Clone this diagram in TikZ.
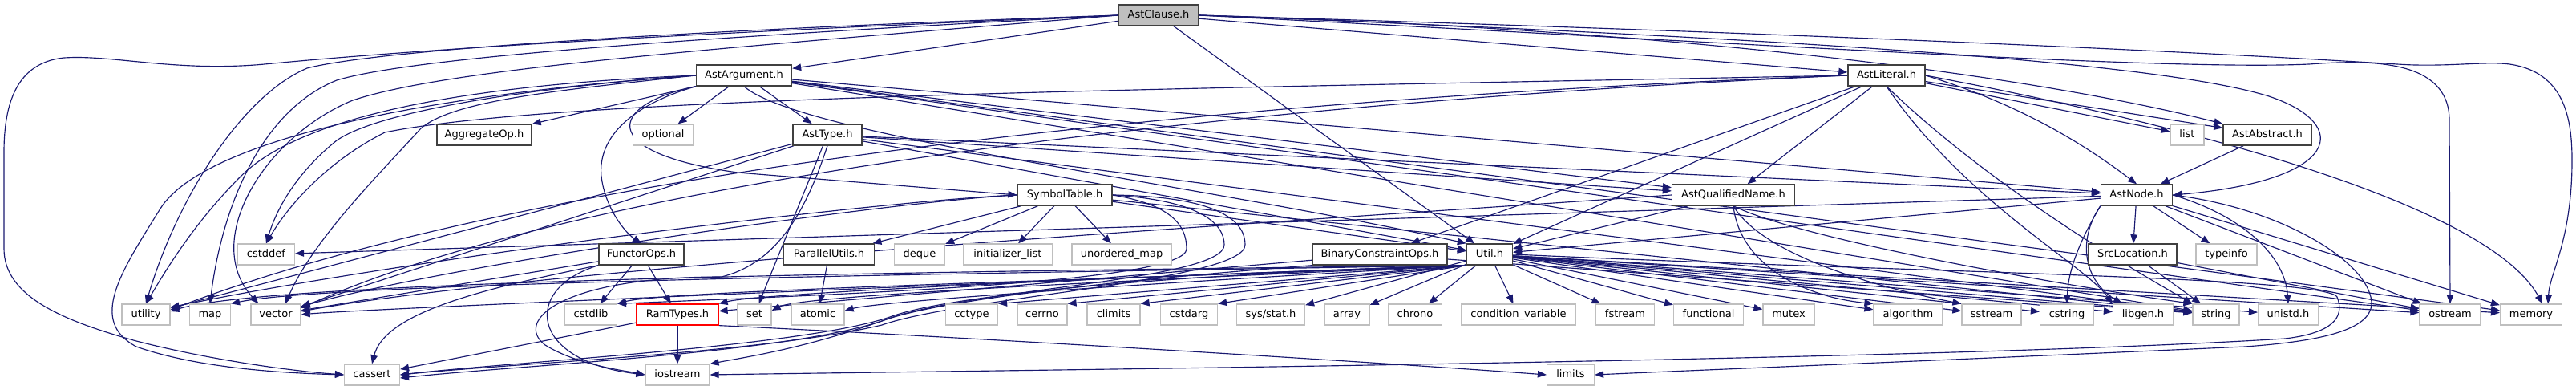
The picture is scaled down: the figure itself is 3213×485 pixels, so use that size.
\documentclass[tikz,border=0pt]{standalone}
\usepackage{fontspec}
\setmainfont{DejaVu Sans}
\usetikzlibrary{arrows.meta}
\definecolor{edgeblue}{RGB}{25,25,112}
\definecolor{sysgray}{RGB}{191,191,191}
\pgfdeclarelayer{bg}
\pgfsetlayers{bg,main}
\begin{document}
\begin{tikzpicture}[x=1pt,y=-1pt,
  box/.style={draw=black!75, line width=1.4pt, minimum height=26pt, inner sep=0pt,
    text height=10pt, text depth=3pt, font=\fontsize{13}{15}\selectfont, fill=white},
  doc/.style={box},
  sys/.style={box, draw=sysgray, line width=1.2pt},
  e/.style={draw=edgeblue, line width=1.15pt, -{Triangle[length=11pt,width=8.5pt]}},
]
\useasboundingbox (0,0) rectangle (3213,485);
% row A
\node[doc, fill=sysgray, minimum width=99pt] (cl) at (1445,19) {AstClause.h};
% row B
\node[doc, minimum width=119pt] (arg) at (928,94) {AstArgument.h};
\node[doc, minimum width=96pt] (lit) at (2353,94) {AstLiteral.h};
% row C
\node[doc, minimum width=118pt] (agg) at (604,168) {AggregateOp.h};
\node[sys, minimum width=75pt] (opt) at (827,168) {optional};
\node[doc, minimum width=86pt] (type) at (1032,168) {AstType.h};
\node[sys, minimum width=42pt] (list) at (2728,168) {list};
\node[doc, minimum width=110pt] (abs) at (2828,168) {AstAbstract.h};
% row D
\node[doc, minimum width=118pt] (sym) at (1328,243) {SymbolTable.h};
\node[doc, minimum width=153pt] (qn) at (2162,243) {AstQualifiedName.h};
\node[doc, minimum width=89pt] (node) at (2665,243) {AstNode.h};
% row E
\node[sys, minimum width=71pt] (cstddef) at (332,317) {cstddef};
\node[doc, minimum width=106pt] (func) at (800,317) {FunctorOps.h};
\node[doc, minimum width=113pt] (par) at (1034,317) {ParallelUtils.h};
\node[sys, minimum width=63pt] (deque) at (1147,317) {deque};
\node[sys, minimum width=111pt] (initl) at (1257,317) {initializer\_list};
\node[sys, minimum width=124pt] (umap) at (1399,317) {unordered\_map};
\node[doc, minimum width=168pt] (bin) at (1721,317) {BinaryConstraintOps.h};
\node[doc, minimum width=57pt] (util) at (1858,317) {Util.h};
\node[doc, minimum width=110pt] (src) at (2660,317) {SrcLocation.h};
\node[sys, minimum width=76pt] (typeinfo) at (2777,317) {typeinfo};
% row F
\node[sys, minimum width=60pt] (utility) at (182,392) {utility};
\node[sys, minimum width=51pt] (map) at (262,392) {map};
\node[sys, minimum width=62pt] (vector) at (344,392) {vector};
\node[sys, minimum width=65pt] (cstdlib) at (737,392) {cstdlib};
\node[box, draw=red, line width=1.2pt, minimum width=102pt] (ram) at (845,392) {RamTypes.h};
\node[sys, minimum width=42pt] (set) at (941,392) {set};
\node[sys, minimum width=66pt] (atomic) at (1020,392) {atomic};
\node[sys, minimum width=65pt] (cctype) at (1212,392) {cctype};
\node[sys, minimum width=62pt] (cerrno) at (1300,392) {cerrno};
\node[sys, minimum width=66pt] (climits) at (1389,392) {climits};
\node[sys, minimum width=71pt] (cstdarg) at (1483,392) {cstdarg};
\node[sys, minimum width=85pt] (sysstat) at (1585,392) {sys/stat.h};
\node[sys, minimum width=56pt] (array) at (1680,392) {array};
\node[sys, minimum width=67pt] (chrono) at (1765,392) {chrono};
\node[sys, minimum width=143pt] (condvar) at (1894,392) {condition\_variable};
\node[sys, minimum width=73pt] (fstream) at (2027,392) {fstream};
\node[sys, minimum width=87pt] (functional) at (2131,392) {functional};
\node[sys, minimum width=64pt] (mutex) at (2231,392) {mutex};
\node[sys, minimum width=86pt] (algorithm) at (2380,392) {algorithm};
\node[sys, minimum width=74pt] (sstream) at (2484,392) {sstream};
\node[sys, minimum width=67pt] (cstring) at (2578,392) {cstring};
\node[sys, minimum width=75pt] (libgen) at (2673,392) {libgen.h};
\node[sys, minimum width=58pt] (string) at (2764,392) {string};
\node[sys, minimum width=75pt] (unistd) at (2854,392) {unistd.h};
\node[sys, minimum width=76pt] (ostream) at (3056,392) {ostream};
\node[sys, minimum width=77pt] (memory) at (3157,392) {memory};
% row G
\node[sys, minimum width=69pt] (cassert) at (464,467) {cassert};
\node[sys, minimum width=80pt] (iostream) at (845,467) {iostream};
\node[sys, minimum width=59pt] (limits) at (1959,467) {limits};

\begin{pgfonlayer}{bg}
% AstClause.h
\draw[e] (cl) -- (arg);
\draw[e] (cl) -- (lit);
\draw[e] (cl.east) .. controls (2200,40) and (2600,110) .. (abs.north west);
\draw[e] (cl.east) .. controls (2300,50) and (2700,80) .. (2830,120) .. controls (2935,155) and (2920,225) .. (node.east);
\draw[e] (cl) -- (util);
\draw[e] (cl.west) .. controls (900,40) and (560,58) .. (330,80) .. controls (220,90) and (140,68) .. (80,72) .. controls (20,78) and (5,130) .. (5,190) -- (5,310) .. controls (5,370) and (80,400) .. (170,425) .. controls (260,448) and (360,462) .. (cassert.west);
\draw[e] (cl.west) .. controls (900,36) and (480,60) .. (383,85) .. controls (300,120) and (220,250) .. (utility.north);
\draw[e] (cl.west) .. controls (900,45) and (520,70) .. (420,100) .. controls (320,140) and (275,270) .. (map.north);
\draw[e] (cl.west) .. controls (900,60) and (560,85) .. (440,125) .. controls (330,170) and (250,300) .. ([xshift=10pt]vector.north west);
\draw[e] (cl.east) .. controls (2200,40) and (2700,62) .. (2990,80) .. controls (3050,84) and (3100,76) .. (3130,80) .. controls (3200,90) and (3208,150) .. (3208,200) .. controls (3208,300) and (3180,340) .. ([xshift=-18pt]memory.north east);
\draw[e] (cl.east) .. controls (2200,55) and (2700,88) .. (2880,80) .. controls (2960,74) and (3055,75) .. (3055,150) -- (ostream.north);
% AstArgument.h
\draw[e] (arg) -- (agg);
\draw[e] (arg) -- (opt);
\draw[e] (arg) -- (type);
\draw[e] (arg.south west) .. controls (790,130) and (745,170) .. (750,220) .. controls (755,260) and (780,290) .. (func.north);
\draw[e] (arg.south west) .. controls (760,130) and (740,190) .. (920,215) -- (sym.west);
\draw[e] (arg) -- (node);
\draw[e] (arg) -- (qn);
\draw[e] (arg.south) .. controls (1000,170) and (1500,230) .. (util.north west);
\draw[e] (arg.west) .. controls (500,120) and (250,180) .. (200,260) .. controls (150,340) and (110,400) .. (170,432) .. controls (250,460) and (360,465) .. (cassert.west);
\draw[e] (arg.west) .. controls (650,110) and (470,140) .. (420,175) .. controls (370,215) and (345,260) .. (cstddef.north);
\draw[e] (arg.west) .. controls (600,105) and (380,140) .. (300,220) .. controls (240,280) and (205,340) .. (utility.north);
\draw[e] (arg.west) .. controls (700,112) and (565,125) .. (525,160) .. controls (470,220) and (390,300) .. ([xshift=12pt]vector.north);
\draw[e] (arg) -- (memory);
\draw[e] (arg) -- (ostream);
\draw[e] (arg) -- (string);
% AstLiteral.h
\draw[e] (lit) -- (abs);
\draw[e] (lit) -- (list);
\draw[e] (lit.east) .. controls (2520,130) and (2600,180) .. (node.north);
\draw[e] (lit) -- (qn);
\draw[e] (lit) -- (bin);
\draw[e] (lit) -- (util);
\draw[e] (lit.east) .. controls (2700,150) and (3100,250) .. ([xshift=-25pt]memory.north east);
\draw[e] (lit.south) .. controls (2450,250) and (2600,330) .. (libgen.north west);
\draw[e] (lit.south) .. controls (2480,230) and (2650,330) .. (string.north west);
\draw[e] (lit.west) .. controls (1500,110) and (700,120) .. (480,165) .. controls (410,200) and (360,255) .. (cstddef.north);
\draw[e] (lit.west) .. controls (1600,120) and (700,200) .. ([yshift=6pt]utility.east);
\draw[e] (lit.west) .. controls (1600,125) and (750,215) .. ([yshift=8pt]vector.east);
% AstType.h
\draw[e] (type) -- (node);
\draw[e] (type) -- (qn);
\draw[e] (type) -- (util);
\draw[e] (type) -- (set);
\draw[e] (type.south) .. controls (1000,280) and (960,330) .. (900,345) .. controls (700,345) and (640,400) .. (680,430) .. controls (720,455) and (780,462) .. (iostream.west);
\draw[e] (type) -- (utility);
\draw[e] (type) -- (vector);
\draw[e] (type) -- (string);
% SymbolTable.h
\draw[e] (sym) -- (par);
\draw[e] (sym) -- (deque);
\draw[e] (sym) -- (initl);
\draw[e] (sym) -- (umap);
\draw[e] (sym) -- (util);
\draw[e] (sym.east) .. controls (1460,255) and (1480,280) .. (1480,310) .. controls (1480,350) and (1100,365) .. (cstdlib.north east);
\draw[e] (sym.east) .. controls (1500,250) and (1527,280) .. (1527,305) .. controls (1527,350) and (1200,360) .. (1100,400) .. controls (1000,435) and (930,445) .. (iostream.north east);
\draw[e] (sym.east) .. controls (1530,245) and (1553,280) .. (1553,305) .. controls (1553,350) and (1200,370) .. (1100,405) .. controls (950,440) and (650,452) .. (cassert.east);
\draw[e] (sym.west) .. controls (1100,250) and (520,320) .. ([yshift=9pt]utility.east);
\draw[e] (sym.west) .. controls (1100,252) and (560,330) .. ([yshift=10pt]vector.east);
\draw[e] (sym) -- (string);
% FunctorOps.h
\draw[e] (func) -- (cstdlib);
\draw[e] (func) -- (ram);
\draw[e] (func.south west) .. controls (600,360) and (480,390) .. (cassert.north);
\draw[e] (func) -- (vector);
\draw[e] (func.south west) .. controls (650,360) and (660,450) .. (iostream.west);
% RamTypes.h
\draw[e] (ram) -- (iostream);
\draw[e] (ram) -- (cassert);
\draw[e] (ram.south east) .. controls (1200,420) and (1700,450) .. (limits.west);
% ParallelUtils.h
\draw[e] (par) -- (atomic);
% BinaryConstraintOps.h
\draw[e] (bin) -- (ram);
\draw[e] (bin.south west) .. controls (1450,345) and (1180,370) .. (1100,400) .. controls (980,440) and (650,455) .. ([yshift=-4pt]cassert.east);
\draw[e] (bin) -- (string);
% Util.h
\draw[e] (util.south west) .. controls (1400,345) and (450,385) .. (vector.east);
\draw[e] (util.south west) .. controls (1400,338) and (420,350) .. (map.north east);
\draw[e] (util.south west) .. controls (1400,336) and (350,345) .. ([yshift=4pt]utility.east);
\draw[e] (util.south west) .. controls (1400,350) and (1000,368) .. ([yshift=5pt]set.east);
\draw[e] (util.south west) .. controls (1450,352) and (1100,375) .. ([yshift=5pt]atomic.east);
\draw[e] (util.south west) -- (cctype.north east);
\draw[e] (util.south west) -- (cerrno.north east);
\draw[e] (util.south west) -- (climits.north east);
\draw[e] (util.south west) -- (cstdarg.north east);
\draw[e] (util) -- (sysstat);
\draw[e] (util) -- (array);
\draw[e] (util) -- (chrono);
\draw[e] (util) -- (condvar);
\draw[e] (util) -- (fstream);
\draw[e] (util) -- (functional);
\draw[e] (util) -- (mutex);
\draw[e] (util) -- (algorithm);
\draw[e] (util) -- (sstream);
\draw[e] (util) -- (cstring);
\draw[e] (util) -- (libgen);
\draw[e] (util) -- (string);
\draw[e] (util) -- (unistd);
\draw[e] (util) -- (ostream);
\draw[e] (util) -- (memory);
\draw[e] (util.south west) .. controls (1500,340) and (1190,365) .. (1110,395) .. controls (1000,432) and (650,450) .. (cassert.east);
\draw[e] (util.south west) .. controls (1400,348) and (830,362) .. (cstdlib.north east);
\draw[e] (util.south west) .. controls (1400,345) and (950,365) .. (ram.north east);
\draw[e] (util.east) .. controls (2400,340) and (2900,345) .. (2915,370) .. controls (2925,395) and (2910,415) .. (2850,422) .. controls (2400,450) and (1200,462) .. (iostream.east);
% AstQualifiedName.h
\draw[e] (qn) -- (util);
\draw[e] (qn.south) .. controls (2170,330) and (2250,370) .. (algorithm.north west);
\draw[e] (qn.south) .. controls (2200,320) and (2350,360) .. (sstream.north west);
\draw[e] (qn.south) .. controls (2250,300) and (2600,360) .. (string.north west);
\draw[e] (qn.west) .. controls (1700,270) and (700,330) .. ([yshift=4pt]vector.east);
% AstNode.h
\draw[e] (node) -- (src);
\draw[e] (node) -- (typeinfo);
\draw[e] (node.south west) .. controls (2600,290) and (2580,330) .. (cstring.north);
\draw[e] (node.south west) .. controls (2590,300) and (2600,350) .. ([xshift=12pt]libgen.north west);
\draw[e] (node) -- (util);
\draw[e] (node) -- (cstddef);
\draw[e] (node) -- (memory);
\draw[e] (node) -- (ostream);
\draw[e] (node.east) .. controls (2800,270) and (2850,320) .. (unistd.north);
\draw[e] (node.east) .. controls (2850,260) and (2960,330) .. (2958,380) .. controls (2955,410) and (2900,425) .. (2800,432) .. controls (2400,450) and (2100,462) .. (limits.east);
% SrcLocation.h
\draw[e] (src) -- (string);
\draw[e] (src) -- (ostream);
% AstAbstract.h
\draw[e] (abs) -- (node);
\end{pgfonlayer}
\end{tikzpicture}
\end{document}
